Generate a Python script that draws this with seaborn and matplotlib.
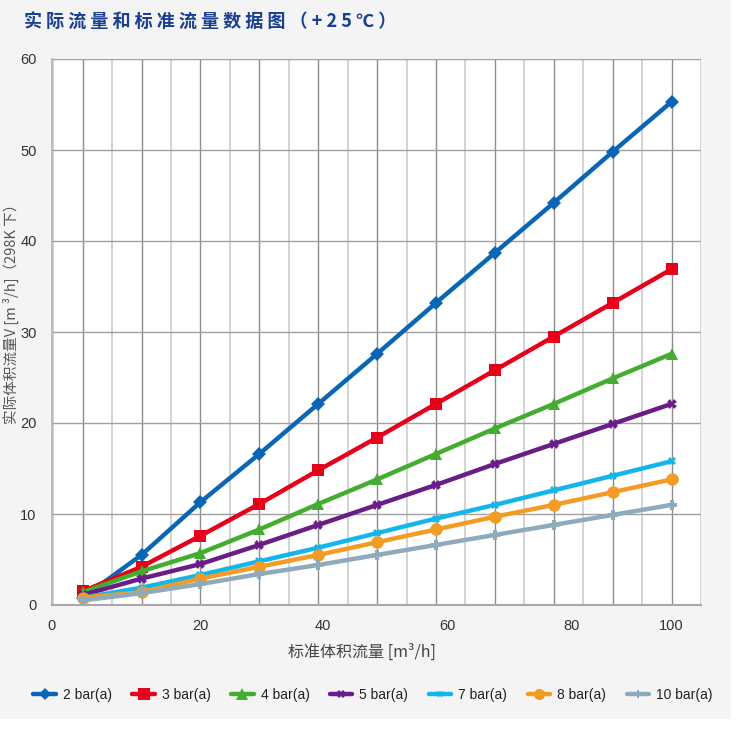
import numpy as np
import pandas as pd
import matplotlib
matplotlib.use("Agg")
import matplotlib.pyplot as plt
import seaborn as sns
from matplotlib.patches import Rectangle
from matplotlib.lines import Line2D

# category positions (equally spaced points on the chart)
categories = [5, 10, 20, 30, 40, 50, 60, 70, 80, 90, 100]
series_names = ["2 bar(a)", "3 bar(a)", "4 bar(a)", "5 bar(a)", "7 bar(a)", "8 bar(a)", "10 bar(a)"]

bar2 = [0.8, 5.5, 11.3, 16.6, 22.1, 27.6, 33.2, 38.7, 44.2, 49.8, 55.3]
bar3 = [1.5, 4.2, 7.6, 11.1, 14.8, 18.4, 22.1, 25.8, 29.5, 33.2, 36.9]
bar4 = [1.4, 3.7, 5.7, 8.3, 11.1, 13.8, 16.6, 19.4, 22.1, 24.9, 27.6]
bar5 = [1.1, 2.9, 4.5, 6.6, 8.8, 11.0, 13.2, 15.5, 17.7, 19.9, 22.1]
bar7 = [0.8, 1.9, 3.3, 4.8, 6.3, 7.9, 9.5, 11.0, 12.6, 14.2, 15.8]
bar8 = [0.8, 1.4, 2.9, 4.2, 5.5, 6.9, 8.3, 9.7, 11.0, 12.4, 13.8]
bar10 = [0.5, 1.3, 2.3, 3.4, 4.4, 5.5, 6.6, 7.7, 8.8, 9.9, 11.0]

xtick_labels = ["0", "20", "40", "60", "80", "100"]
xtick_pos = [-0.52, 2.0, 4.08, 6.19, 8.31, 10.0]

colors = ["#0a66b5", "#e60019", "#43ad32", "#6a1c87", "#13b6ea", "#f39b25", "#8eaabd"]
markers = ["D", "s", "^", "X", "X", "o", "P"]
msizes = [7, 9, 9, 7, 6, 9, 7]

values = [bar2, bar3, bar4, bar5, bar7, bar8, bar10]
rows = []
for name, vals in zip(series_names, values):
    for i, v in enumerate(vals):
        rows.append({"series": name, "idx": i, "flow": v})
df = pd.DataFrame(rows)

sns.set_theme(style="white")
plt.rcParams["font.family"] = ["Liberation Sans", "Noto Sans CJK SC", "DejaVu Sans"]

fig = plt.figure(figsize=(7.42, 7.29), dpi=100)
fig.patch.set_facecolor("white")
fig.patches.append(Rectangle((0, 10 / 729), 731 / 742, 1, transform=fig.transFigure,
                             facecolor="#f4f4f4", edgecolor="none", zorder=-10))
ax = fig.add_axes([52 / 742, 1 - 605 / 729, 649 / 742, 546 / 729])
ax.set_facecolor("white")

for name, c, m, ms in zip(series_names, colors, markers, msizes):
    sub = df[df["series"] == name]
    sns.lineplot(data=sub, x="idx", y="flow", ax=ax, color=c, lw=3.2,
                 marker=m, markersize=ms, markeredgewidth=0, legend=False, zorder=3)

ax.set_xlim(-0.5, 10.5)
ax.set_ylim(0, 60)

# gridlines
ax.xaxis.remove_overlapping_locs = False
ax.set_xticks(np.arange(-0.5, 11, 1))
ax.set_xticklabels([])
ax.set_xticks(xtick_pos, minor=True)
ax.set_xticklabels(xtick_labels, minor=True)
ax.tick_params(axis="x", which="major", length=6, color="#b5b5b5", width=1.2, direction="out")
ax.tick_params(axis="x", which="minor", length=0, pad=10, labelsize=10.5, labelcolor="#333333")
ax.grid(True, axis="x", which="major", color="#c8c8c8", lw=1.1, zorder=0)
for i in range(len(categories)):
    ax.axvline(i, color="#8c8c8c", lw=1, zorder=0)

ax.set_yticks(range(0, 61, 10))
ax.tick_params(axis="y", length=5, color="#b5b5b5", width=1, direction="out",
               labelsize=10.5, labelcolor="#333333", pad=6)
ax.grid(True, axis="y", color="#a0a0a0", lw=1, zorder=0)

for s in ["top", "right"]:
    ax.spines[s].set_visible(False)
ax.spines["left"].set_color("#b5b5b5")
ax.spines["bottom"].set_color("#a8a8a8")
ax.spines["bottom"].set_linewidth(1.5)

ax.set_xlabel("")
ax.set_ylabel("")

cjk = ["Noto Sans CJK SC", "DejaVu Sans"]
title = "实际流量和标准流量数据图（+25℃）"
fig.text(24 / 742, 1 - 28 / 729, " ".join(title), fontsize=13, fontweight="bold",
         color="#1b3f8f", family=cjk, va="baseline", ha="left")

fig.text(11 / 742, 1 - 310 / 729, "实际体积流量V [m ³/h]（298K 下）", rotation=90,
         fontsize=10.5, color="#555555", family=cjk, ha="center", va="center")
fig.text(362 / 742, 1 - 652 / 729, "标准体积流量 [m³/h]", fontsize=11.5,
         color="#444444", family=cjk, ha="center", va="center")

handles = [Line2D([0], [0], color=c, lw=3.2, marker=m, markersize=ms - 1, markeredgewidth=0)
           for c, m, ms in zip(colors, markers, msizes)]
fig.legend(handles, series_names, loc="center", bbox_to_anchor=(373 / 742, 1 - 695 / 729),
           ncol=7, frameon=False, fontsize=10, handlelength=1.6, handletextpad=0.5,
           columnspacing=1.5, labelcolor="#222222")

fig.savefig("out.png", dpi=100, facecolor=fig.get_facecolor())
